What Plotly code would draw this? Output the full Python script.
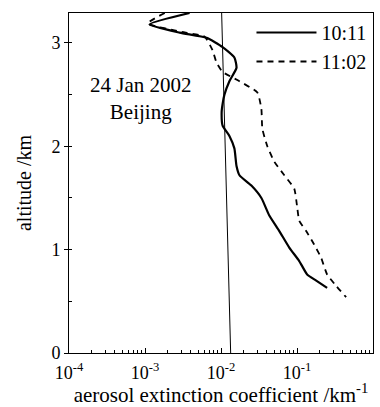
import plotly.graph_objects as go

# 10:11 profile (solid)
alt_1011 = [3.29, 3.18, 3.10, 3.05, 2.96, 2.86, 2.76, 2.63, 2.50, 2.41, 2.33, 2.20, 2.10, 1.98, 1.81, 1.72, 1.62, 1.50, 1.33, 1.18, 1.02, 0.89, 0.76, 0.70, 0.63]
ext_1011 = [0.00386, 0.00115, 0.00286, 0.00646, 0.0105, 0.0150, 0.0160, 0.0129, 0.0111, 0.0105, 0.0102, 0.0105, 0.0129, 0.0150, 0.0160, 0.0175, 0.0251, 0.0340, 0.0432, 0.0585, 0.0791, 0.107, 0.136, 0.179, 0.249]

# 11:02 profile (dashed)
alt_1102 = [3.29, 3.19, 3.11, 3.06, 2.93, 2.81, 2.72, 2.63, 2.52, 2.36, 2.17, 2.00, 1.85, 1.72, 1.59, 1.40, 1.28, 1.18, 1.05, 0.92, 0.76, 0.65, 0.54]
ext_1102 = [0.00182, 0.00109, 0.00286, 0.00608, 0.00774, 0.00873, 0.0105, 0.0175, 0.0301, 0.0340, 0.0350, 0.0407, 0.0504, 0.0681, 0.092, 0.101, 0.107, 0.132, 0.168, 0.208, 0.249, 0.327, 0.443]

# reference vertical line
ref_alt = [3.29, 0.0]
ref_ext = [0.0102, 0.0134]

x_tickvals = [1e-4, 1e-3, 1e-2, 1e-1, 1]
x_ticktext = ["10<sup>-4</sup>", "10<sup>-3</sup>", "10<sup>-2</sup>", "10<sup>-1</sup>", "10<sup>0</sup>"]
x_minor = [m * d for d in [1e-4, 1e-3, 1e-2, 1e-1] for m in range(2, 10)]
y_tickvals = [0, 1, 2, 3]

font_family = "Liberation Serif, Times New Roman, serif"

fig = go.Figure()
fig.add_trace(go.Scatter(x=ref_ext, y=ref_alt, mode="lines",
                         line=dict(color="black", width=1), showlegend=False, hoverinfo="skip"))
fig.add_trace(go.Scatter(x=ext_1011, y=alt_1011, mode="lines", name="10:11",
                         line=dict(color="black", width=2.2, shape="spline", smoothing=0.5)))
fig.add_trace(go.Scatter(x=ext_1102, y=alt_1102, mode="lines", name="11:02",
                         line=dict(color="black", width=1.8, dash="6px,5px", shape="spline", smoothing=0.5)))

fig.add_annotation(x=-3.056, y=2.46, xref="x", yref="y", text="24 Jan 2002<br>Beijing",
                   showarrow=False, font=dict(family=font_family, size=21, color="black"))

fig.update_layout(
    width=380, height=407,
    margin=dict(l=69, r=6, t=13, b=51),
    paper_bgcolor="white", plot_bgcolor="white",
    font=dict(family=font_family, size=18, color="black"),
    legend=dict(x=0.995, y=1.0, xanchor="right", yanchor="top", bgcolor="rgba(0,0,0,0)",
                font=dict(family=font_family, size=20), itemwidth=60, tracegroupgap=16),
    xaxis=dict(type="log", range=[-4, 0], tickvals=x_tickvals, ticktext=x_ticktext,
               ticks="inside", ticklen=5, tickcolor="black", tickfont=dict(size=18),
               ticklabelstandoff=3,
               minor=dict(tickvals=x_minor, ticks="inside", ticklen=3, tickcolor="black", showgrid=False),
               showline=True, linecolor="black", linewidth=1, mirror=True, showgrid=False,
               zeroline=False,
               title=dict(text="aerosol extinction coefficient /km<sup>-1</sup>", standoff=4,
                          font=dict(size=21))),
    yaxis=dict(range=[0, 3.29], tickvals=y_tickvals, ticks="outside", ticklen=4, tickcolor="black",
               tickfont=dict(size=18),
               minor=dict(dtick=0.5, ticks="inside", ticklen=3, tickcolor="black", showgrid=False),
               showline=True, linecolor="black", linewidth=1, mirror=True, showgrid=False,
               zeroline=False,
               title=dict(text="altitude /km", standoff=14, font=dict(size=20))),
)

fig.write_html("out.html")
